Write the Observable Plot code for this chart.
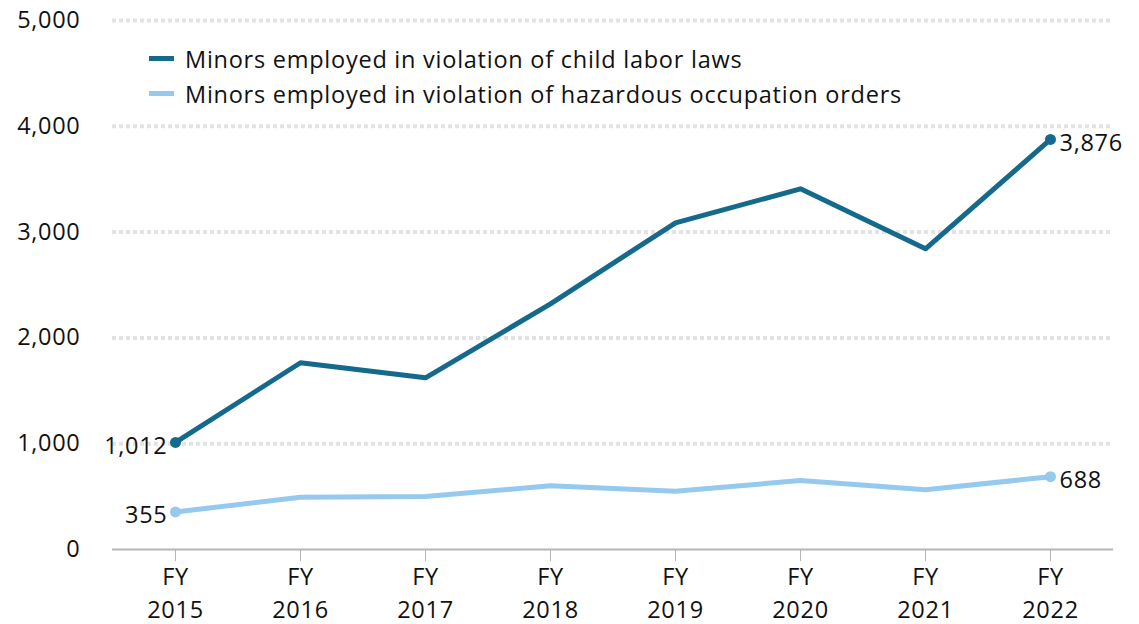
<!DOCTYPE html>
<html>
<head>
<meta charset="utf-8">
<script src="https://cdn.jsdelivr.net/npm/d3@7"></script>
<script src="https://cdn.jsdelivr.net/npm/@observablehq/plot@0.6"></script>
<style>
  html, body { margin: 0; padding: 0; background: #fff; }
  #wrap { position: relative; width: 1139px; height: 624px; font-family: "Open Sans", Lato, sans-serif; }
  #legend { position: absolute; left: 149px; top: 41px; font-size: 23.5px; letter-spacing: 0.75px; color: #111; }
  .item { display: flex; align-items: center; height: 35px; }
  .sw { width: 25px; height: 5px; margin-right: 11px; }
</style>
</head>
<body>
<div id="wrap">
  <div id="chart"></div>
  <div id="legend"></div>
</div>
<script>
const years = [2015, 2016, 2017, 2018, 2019, 2020, 2021, 2022];
const childLabor = [1012, 1765, 1623, 2322, 3088, 3409, 2842, 3876];
const hazardous = [355, 494, 501, 602, 551, 652, 564, 688];
const seriesNames = [
  "Minors employed in violation of child labor laws",
  "Minors employed in violation of hazardous occupation orders"
];
const seriesColors = ["#156a8c", "#95c9ed"];
const yTicks = [0, 1000, 2000, 3000, 4000, 5000];

const data = [
  ...years.map((y, i) => ({year: y, value: childLabor[i], series: seriesNames[0]})),
  ...years.map((y, i) => ({year: y, value: hazardous[i], series: seriesNames[1]}))
];
const ends = data.filter(d => d.year === years[0] || d.year === years[years.length - 1]);
const fmt = d3.format(",");
const FONT = "'Open Sans', Lato, sans-serif";
const FS = 23.5;

const plot = Plot.plot({
  width: 1139,
  height: 624,
  marginTop: 20,
  marginBottom: 75,
  marginLeft: 112,
  marginRight: 26,
  style: {fontFamily: FONT, fontSize: FS + "px", letterSpacing: "0.7px", color: "#111", overflow: "visible"},
  x: {type: "point", domain: years, padding: 0.5, label: null},
  y: {domain: [0, 5000], label: null},
  color: {domain: seriesNames, range: seriesColors},
  marks: [
    Plot.ruleY(yTicks.filter(d => d > 0), {stroke: "#e3e3e3", strokeWidth: 4, strokeDasharray: "4,3"}),
    Plot.ruleY([0], {stroke: "#b5b5b5", strokeWidth: 2}),
    Plot.axisY({ticks: yTicks, tickSize: 0, tickPadding: 32, tickFormat: fmt, fontSize: FS, label: null}),
    Plot.axisX({tickSize: 12, stroke: "#b5b5b5", tickPadding: 0, fontSize: FS, lineHeight: 1.4,
      tickFormat: d => `FY\n${d}`, label: null}),
    Plot.line(data, {x: "year", y: "value", z: "series", stroke: "series", strokeWidth: 5}),
    Plot.dot(ends, {x: "year", y: "value", fill: "series", r: 5.5}),
    Plot.text(ends.filter(d => d.year === years[0]), {x: "year", y: "value", text: d => fmt(d.value),
      textAnchor: "end", dx: -8, dy: 4, fontSize: FS, fill: "#111"}),
    Plot.text(ends.filter(d => d.year === years[years.length - 1]), {x: "year", y: "value", text: d => fmt(d.value),
      textAnchor: "start", dx: 9, dy: 4, fontSize: FS, fill: "#111"})
  ]
});
document.getElementById("chart").appendChild(plot);

const legend = document.getElementById("legend");
seriesNames.forEach((name, i) => {
  const item = document.createElement("div");
  item.className = "item";
  const sw = document.createElement("span");
  sw.className = "sw";
  sw.style.background = seriesColors[i];
  const lab = document.createElement("span");
  lab.textContent = name;
  item.appendChild(sw);
  item.appendChild(lab);
  legend.appendChild(item);
});
</script>
</body>
</html>
